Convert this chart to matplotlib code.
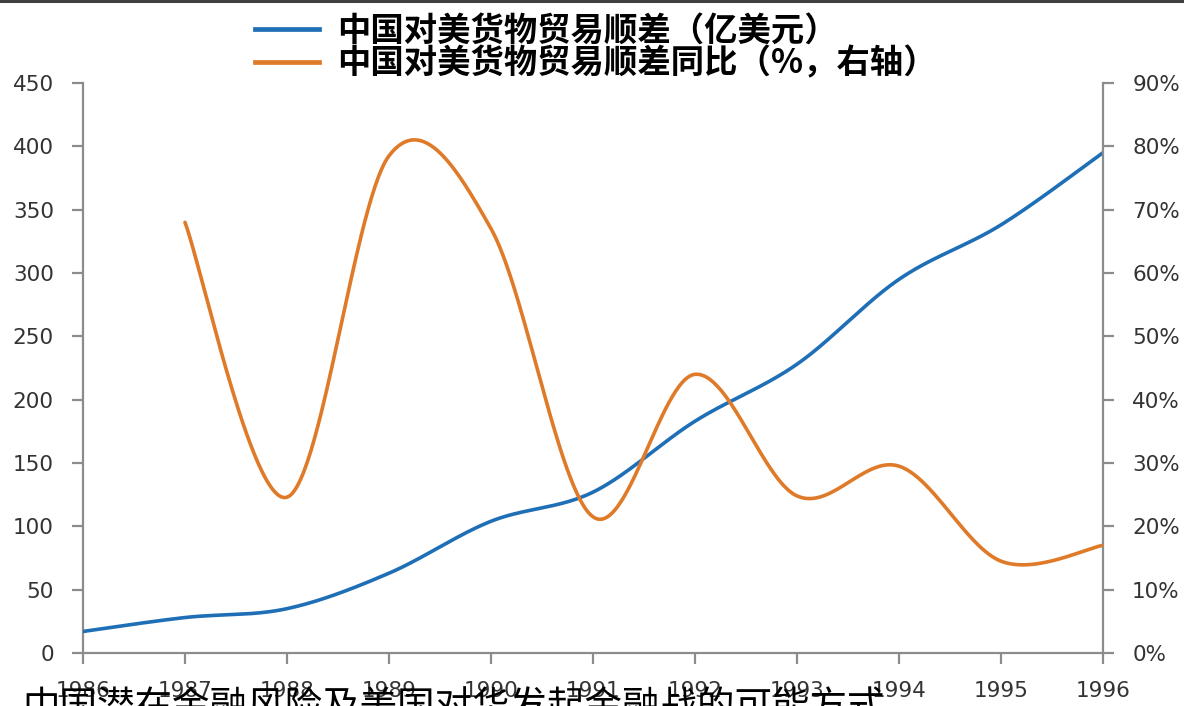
import numpy as np
import matplotlib
matplotlib.use("Agg")
import matplotlib.pyplot as plt
from matplotlib.lines import Line2D

plt.rcParams['font.family'] = ['DejaVu Sans']

# China's goods trade surplus with the US (100 million USD) and its YoY growth (%)
years = [1986, 1987, 1988, 1989, 1990, 1991, 1992, 1993, 1994, 1995, 1996]
surplus = [17, 28, 35, 63, 104, 127, 183, 228, 295, 338, 395]
growth_years = [1987, 1988, 1989, 1990, 1991, 1992, 1993, 1994, 1995, 1996]
growth = [68, 24.6, 78.5, 67, 21.5, 44, 24.8, 29.5, 14.5, 17]

left_ticks = list(range(0, 451, 50))
right_ticks = list(range(0, 91, 10))

label_surplus = "中国对美货物贸易顺差（亿美元）"
label_growth = "中国对美货物贸易顺差同比（%，右轴）"
footer = "中国潜在金融风险及美国对华发起金融战的可能方式"

BLUE = "#1f6fb6"
ORANGE = "#df7a29"
AXIS = "#8c8c8c"
TXT = "#333333"


def smooth(xs, ys, n=60):
    """Catmull-Rom style cubic Bezier through the points."""
    p = np.column_stack([xs, ys]).astype(float)
    p_ext = np.vstack([p[0], p, p[-1]])
    out = []
    for i in range(1, len(p_ext) - 2):
        p0, p1, p2, p3 = p_ext[i - 1], p_ext[i], p_ext[i + 1], p_ext[i + 2]
        c1 = p1 + (p2 - p0) / 6.0
        c2 = p2 - (p3 - p1) / 6.0
        t = np.linspace(0, 1, n)[:, None]
        seg = ((1 - t) ** 3) * p1 + 3 * ((1 - t) ** 2) * t * c1 \
            + 3 * (1 - t) * t ** 2 * c2 + t ** 3 * p2
        out.append(seg if i == 1 else seg[1:])
    s = np.vstack(out)
    return s[:, 0], s[:, 1]


fig = plt.figure(figsize=(11.84, 7.06), dpi=100)
ax = fig.add_axes([83 / 1184, 1 - 653 / 706, (1103 - 83) / 1184, (653 - 83) / 706])
ax2 = ax.twinx()

sx, sy = smooth(years, surplus)
ax.plot(sx, sy, color=BLUE, lw=2.6, solid_capstyle='round', zorder=3)
gx, gy = smooth(growth_years, growth)
ax2.plot(gx, gy, color=ORANGE, lw=2.6, solid_capstyle='round', zorder=3)

ax.set_xlim(1986, 1996)
ax.set_ylim(0, 450)
ax2.set_ylim(0, 90)
ax.set_xticks(years)
ax.set_xticklabels([str(y) for y in years])
ax.set_yticks(left_ticks)
ax.set_yticklabels([str(v) for v in left_ticks])
ax2.set_yticks(right_ticks)
ax2.set_yticklabels([f"{v}%" for v in right_ticks])

for a in (ax, ax2):
    a.spines["top"].set_visible(False)
    for sp in a.spines.values():
        sp.set_color(AXIS)
        sp.set_linewidth(1.6)
    a.tick_params(colors=AXIS, labelcolor=TXT, labelsize=15.5, width=1.6, length=8)
ax.spines['right'].set_visible(False)
ax2.spines['left'].set_visible(False)
ax2.spines['bottom'].set_visible(False)
ax.tick_params(axis='y', pad=13)
ax.tick_params(axis='x', pad=12)
ax2.tick_params(axis='y', pad=13)

# legend at the top
handles = [Line2D([], [], color=BLUE, lw=3.4), Line2D([], [], color=ORANGE, lw=3.4)]
fig.legend(handles, [label_surplus, label_growth], loc='upper left',
           bbox_to_anchor=(232 / 1184, 1 + 9 / 706), frameon=False,
           prop={'family': ['Noto Sans CJK SC', 'DejaVu Sans'], 'weight': 'bold', 'size': 24},
           handlelength=1.9, handletextpad=0.55, labelspacing=0.0, borderpad=0.2)

# top rule
fig.add_artist(Line2D([0, 1], [1 - 1 / 706, 1 - 1 / 706], transform=fig.transFigure,
                      color="#404040", lw=2.2))

# caption overlapping the bottom edge
fig.text(22 / 1184, 1 - 689 / 706, footer, ha='left', va='top', color='black',
         fontsize=27, family=['Noto Sans CJK SC', 'DejaVu Sans'])

fig.savefig("out.png", dpi=100)
